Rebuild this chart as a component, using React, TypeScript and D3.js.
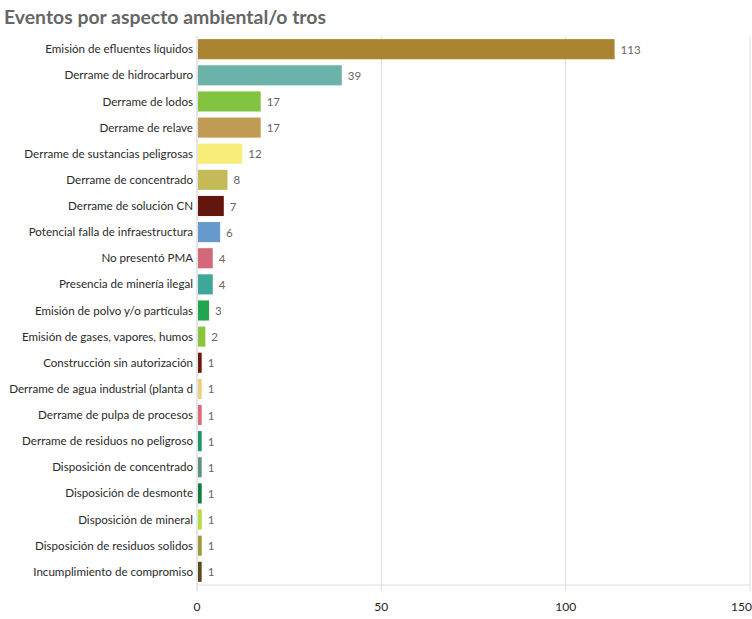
import React from "react";
import * as d3 from "d3";

const categories = [
  "Emisión de efluentes líquidos",
  "Derrame de hidrocarburo",
  "Derrame de lodos",
  "Derrame de relave",
  "Derrame de sustancias peligrosas",
  "Derrame de concentrado",
  "Derrame de solución CN",
  "Potencial falla de infraestructura",
  "No presentó PMA",
  "Presencia de minería ilegal",
  "Emisión de polvo y/o partículas",
  "Emisión de gases, vapores, humos",
  "Construcción sin autorización",
  "Derrame de agua industrial (planta d",
  "Derrame de pulpa de procesos",
  "Derrame de residuos no peligroso",
  "Disposición de concentrado",
  "Disposición de desmonte",
  "Disposición de mineral",
  "Disposición de residuos solidos",
  "Incumplimiento de compromiso",
];

const values = [113, 39, 17, 17, 12, 8, 7, 6, 4, 4, 3, 2, 1, 1, 1, 1, 1, 1, 1, 1, 1];

const colors = [
  "#AA8430", "#6BB3A9", "#82C341", "#BF9B53", "#F8EC7A", "#C4BA58", "#62160E",
  "#6699CC", "#D26878", "#3DA899", "#22A54E", "#8BC53F", "#6B1A10", "#E9D07A",
  "#D86A7A", "#1E9468", "#5F9180", "#137A3F", "#B9DA3C", "#9C9A3A", "#5E4A1F",
];

const xTicks = [0, 50, 100, 150];
const title = "Eventos por aspecto ambiental/o tros";

const W = 752;
const H = 619;
const left = 197;
const right = 750;
const top = 36;
const bottom = 585;

export default function App() {
  const x = d3.scaleLinear().domain([0, 150]).range([left, right]);
  const y = d3
    .scaleBand<string>()
    .domain(categories)
    .range([top, bottom])
    .paddingInner(0.23)
    .paddingOuter(0.12);
  const font = "Lato, sans-serif";
  return (
    <svg
      width={W}
      height={H}
      style={{ position: "absolute", left: 0, top: 0, background: "#fff" }}
      fontFamily={font}
    >
      <text x={4} y={24} fontSize={19.4} fontWeight="bold" fill="#666">
        {title}
      </text>
      {xTicks.map((t) => (
        <g key={t}>
          <line
            x1={x(t)}
            x2={x(t)}
            y1={top}
            y2={bottom + 6}
            stroke={t === 0 ? "#ccc" : "#ddd"}
            strokeWidth={1}
          />
          <text
            x={x(t)}
            y={611}
            fontSize={12}
            textAnchor={t === 150 ? "end" : "middle"}
            dx={t === 150 ? 2 : 0}
            fill="#222"
          >
            {t}
          </text>
        </g>
      ))}
      <line x1={left} x2={right} y1={bottom} y2={bottom} stroke="#ddd" />
      {categories.map((c, i) => {
        const yy = y(c)!;
        const bh = y.bandwidth();
        return (
          <g key={c}>
            <text
              x={left - 4}
              y={yy + bh / 2}
              dy="0.35em"
              fontSize={11.6}
              textAnchor="end"
              fill="#2a2a2a"
            >
              {c}
            </text>
            <rect
              x={x(0) + 1}
              y={yy}
              width={x(values[i]) - x(0)}
              height={bh}
              fill={colors[i]}
            />
            <text
              x={x(values[i]) + 7}
              y={yy + bh / 2}
              dy="0.4em"
              fontSize={11.5}
              fill="#666"
            >
              {values[i]}
            </text>
          </g>
        );
      })}
    </svg>
  );
}
